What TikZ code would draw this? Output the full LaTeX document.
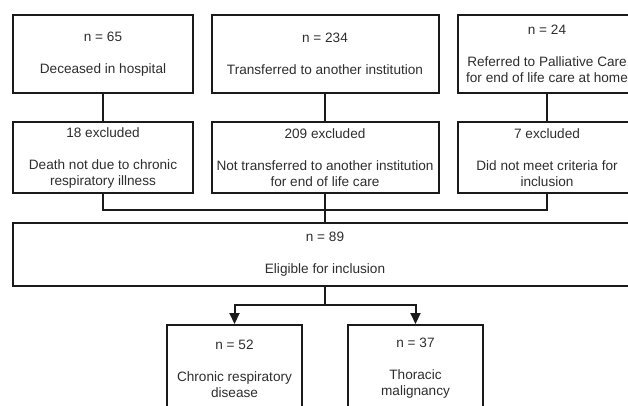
\documentclass[tikz,border=0pt]{standalone}
\usepackage{fontspec}
\setmainfont{Liberation Sans}
\usetikzlibrary{arrows.meta}
\definecolor{linec}{HTML}{1A1A1A}
\definecolor{textc}{HTML}{2E2E2E}
\tikzset{
  box/.style={draw=linec, line width=2pt, rectangle, inner sep=0pt, align=center,
    text=textc, font=\fontsize{13.6}{16}\selectfont},
  conn/.style={draw=linec, line width=2pt},
  arr/.style={conn, -{Triangle[length=11pt,width=10pt]}}
}
\begin{document}
\begin{tikzpicture}[x=1pt,y=-1pt]
\useasboundingbox (0,0) rectangle (628,405);
\fill[white] (0,0) rectangle (628,405);
\clip (0,0) rectangle (628,405);
% top row
\node[box, minimum width=180pt, minimum height=78pt] (A) at (103,54) {n = 65\\[16pt]Deceased in hospital};
\node[box, minimum width=227pt, minimum height=78pt] (B) at (325,54) {n = 234\\[16pt]Transferred to another institution};
\node[box, minimum width=178pt, minimum height=78pt] (C) at (547,54) {n = 24\\[16pt]Referred to Palliative Care\\for end of life care at home};
% second row
\node[box, minimum width=180pt, minimum height=71pt] (A2) at (103,157.5) {18 excluded\\[16pt]Death not due to chronic\\respiratory illness};
\node[box, minimum width=227pt, minimum height=71pt] (B2) at (325,157.5) {209 excluded\\[16pt]Not transferred to another institution\\for end of life care};
\node[box, minimum width=178pt, minimum height=71pt] (C2) at (547,157.5) {7 excluded\\[16pt]Did not meet criteria for\\inclusion};
% eligible
\node[box, minimum width=624pt, minimum height=63pt] (E) at (325,254.5) {n = 89\\[16pt]Eligible for inclusion};
% bottom
\node[box, minimum width=135pt, minimum height=87pt] (L1) at (234.5,368.5) {n = 52\\[16pt]Chronic respiratory\\disease};
\node[box, minimum width=135pt, minimum height=87pt] (L2) at (415.5,368.5) {n = 37\\[16pt]Thoracic\\malignancy};
% connectors
\coordinate (J) at (325,210);
\coordinate (K) at (325,304.5);
\draw[conn] (A.south) -- (A2.north);
\draw[conn] (B.south) -- (B2.north);
\draw[conn] (C.south) -- (C2.north);
\draw[conn] (A2.south) |- (J);
\draw[conn] (C2.south) |- (J);
\draw[conn] (B2.south) -- (E.north);
\draw[conn] (E.south) -- (K);
\draw[arr] (K) -| (L1.north);
\draw[arr] (K) -| (L2.north);
\end{tikzpicture}
\end{document}
